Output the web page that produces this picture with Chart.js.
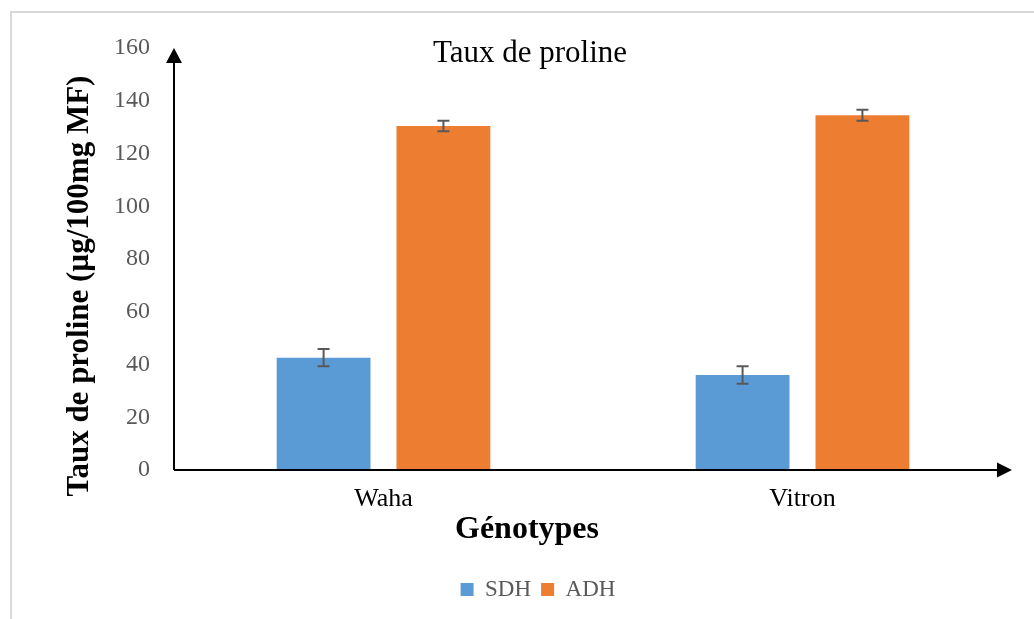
<!DOCTYPE html>
<html>
<head>
<meta charset="utf-8">
<script src="https://cdn.jsdelivr.net/npm/chart.js@4/dist/chart.umd.min.js"></script>
<style>
html,body{margin:0;padding:0;background:#fff;}
canvas{display:block;}
</style>
</head>
<body>
<canvas id="c" width="1034" height="619"></canvas>
<script>
const categories = ["Waha", "Vitron"];
const seriesNames = ["SDH", "ADH"];
const sdhValues = [42.6, 36.0];
const adhValues = [130.4, 134.5];
const sdhErrors = [3.3, 3.3];
const adhErrors = [2.0, 2.1];
const yTicks = [0, 20, 40, 60, 80, 100, 120, 140, 160];
const chartTitle = "Taux de proline";
const yTitle = "Taux de proline (µg/100mg MF)";
const xTitle = "Génotypes";

const SERIF = "'Liberation Serif', 'Times New Roman', serif";

const errorBarPlugin = {
  id: 'errorBars',
  afterDatasetsDraw(chart) {
    const ctx = chart.ctx;
    const y = chart.scales.y;
    ctx.save();
    ctx.strokeStyle = '#595959';
    ctx.lineWidth = 2;
    chart.data.datasets.forEach((ds, di) => {
      const meta = chart.getDatasetMeta(di);
      meta.data.forEach((bar, i) => {
        const v = ds.data[i], e = ds.errors[i];
        const yt = y.getPixelForValue(v + e);
        const yb = y.getPixelForValue(v - e);
        const x = bar.x;
        ctx.beginPath();
        ctx.moveTo(x, yt); ctx.lineTo(x, yb);
        ctx.moveTo(x - 6, yt); ctx.lineTo(x + 6, yt);
        ctx.moveTo(x - 6, yb); ctx.lineTo(x + 6, yb);
        ctx.stroke();
      });
    });
    ctx.restore();
  }
};

const decorPlugin = {
  id: 'decor',
  beforeDraw(chart) {
    const ctx = chart.ctx;
    ctx.save();
    ctx.fillStyle = '#fff';
    ctx.fillRect(0, 0, chart.width, chart.height);
    ctx.strokeStyle = '#d9d9d9';
    ctx.lineWidth = 2;
    ctx.beginPath();
    ctx.moveTo(11, chart.height);
    ctx.lineTo(11, 12);
    ctx.lineTo(chart.width, 12);
    ctx.stroke();
    ctx.restore();
  },
  afterDraw(chart) {
    const ctx = chart.ctx;
    const a = chart.chartArea;
    const x0 = chart.scales.x.left;
    const yTop = chart.scales.y.getPixelForValue(160);
    const y0 = chart.scales.y.getPixelForValue(0);
    ctx.save();
    ctx.strokeStyle = '#000';
    ctx.fillStyle = '#000';
    ctx.lineWidth = 2;
    ctx.beginPath();
    ctx.moveTo(x0, y0);
    ctx.lineTo(x0, yTop + 10);
    ctx.moveTo(x0, y0);
    ctx.lineTo(a.right - 10, y0);
    ctx.stroke();
    // arrow heads
    ctx.beginPath();
    ctx.moveTo(x0, yTop);
    ctx.lineTo(x0 - 8, yTop + 15);
    ctx.lineTo(x0 + 8, yTop + 15);
    ctx.closePath();
    ctx.fill();
    ctx.beginPath();
    ctx.moveTo(a.right, y0);
    ctx.lineTo(a.right - 15, y0 - 7.5);
    ctx.lineTo(a.right - 15, y0 + 7.5);
    ctx.closePath();
    ctx.fill();
    ctx.textAlign = 'center';
    ctx.textBaseline = 'middle';
    // chart title
    ctx.font = "31px " + SERIF;
    ctx.fillText(chartTitle, 530, 54);
    // x axis title
    ctx.font = "bold 32px " + SERIF;
    ctx.fillText(xTitle, 527, 530);
    // y axis title
    ctx.translate(80, 286);
    ctx.rotate(-Math.PI / 2);
    ctx.font = "bold 31px " + SERIF;
    ctx.fillText(yTitle, 0, 0);
    ctx.restore();
  }
};

new Chart(document.getElementById('c'), {
  type: 'bar',
  data: {
    labels: categories,
    datasets: [
      { label: seriesNames[0], data: sdhValues, errors: sdhErrors, backgroundColor: '#5b9bd5', categoryPercentage: 0.572, barPercentage: 0.783 },
      { label: seriesNames[1], data: adhValues, errors: adhErrors, backgroundColor: '#ed7d31', categoryPercentage: 0.572, barPercentage: 0.783 }
    ]
  },
  options: {
    responsive: false,
    animation: false,
    layout: { padding: { left: 64, right: 22, top: 48, bottom: 8 } },
    plugins: {
      legend: {
        position: 'bottom',
        labels: {
          font: { family: SERIF, size: 23 },
          color: '#595959',
          boxWidth: 13,
          boxHeight: 13,
          padding: 10
        }
      },
      title: { display: false },
      tooltip: { enabled: false }
    },
    scales: {
      x: {
        grid: { display: false, drawTicks: false },
        border: { display: false },
        ticks: { font: { family: SERIF, size: 26 }, color: '#000', padding: 14 },
        afterFit(s) { s.height = 98; }
      },
      y: {
        min: 0, max: 160,
        afterBuildTicks(s) { s.ticks = yTicks.map(v => ({ value: v })); },
        grid: { display: false, drawTicks: false },
        border: { display: false },
        ticks: { font: { family: SERIF, size: 24 }, color: '#595959', padding: 24 },
        afterFit(s) { s.width = 110; }
      }
    }
  },
  plugins: [decorPlugin, errorBarPlugin]
});
</script>
</body>
</html>
